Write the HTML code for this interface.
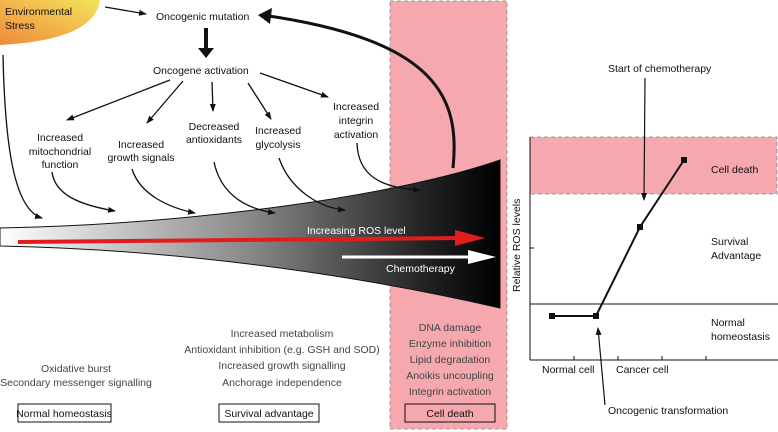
<!DOCTYPE html>
<html><head><meta charset="utf-8"><style>
body{margin:0;background:#fff}
svg{display:block}
text{font-family:"Liberation Sans",sans-serif;font-size:10.5px;fill:#111}
.g{fill:#444}
</style></head><body>
<svg width="778" height="432" viewBox="0 0 778 432" xmlns="http://www.w3.org/2000/svg">
<defs>
<linearGradient id="fun" x1="0" x2="1" y1="0" y2="0">
<stop offset="0" stop-color="#fff"/><stop offset="0.5" stop-color="#888"/><stop offset="0.85" stop-color="#222"/><stop offset="1" stop-color="#000"/></linearGradient>
<linearGradient id="env" x1="0" y1="1" x2="1" y2="0">
<stop offset="0" stop-color="#f08a3c"/><stop offset="1" stop-color="#f3e45a"/></linearGradient>
<marker id="a" markerWidth="8" markerHeight="8" refX="7" refY="4" orient="auto" markerUnits="userSpaceOnUse"><path d="M0,1 L8,4 L0,7z" fill="#111"/></marker>
</defs>
<path d="M0,0 H100 Q95,40 0,45 Z" fill="url(#env)"/>
<text x="5" y="15">Environmental</text><text x="5" y="29">Stress</text>
<rect x="390" y="1" width="117" height="428" fill="#f5a8ae" stroke="#999" stroke-dasharray="4,3"/>
<path d="M0,228 L0,246 C200,250 380,280 500,308 L500,160 C400,195 200,224 0,228Z" fill="url(#fun)" stroke="#111" stroke-width="1"/>
<line x1="18" y1="242" x2="458" y2="238" stroke="#e21c1c" stroke-width="4"/>
<path d="M455,230 L485,238 L455,246z" fill="#e21c1c"/>
<text x="307" y="234" style="fill:#fff">Increasing ROS level</text>
<line x1="342" y1="257" x2="470" y2="257" stroke="#fff" stroke-width="3"/>
<path d="M468,250 L496,257 L468,264z" fill="#fff"/>
<text x="386" y="272" style="fill:#fff">Chemotherapy</text>
<text x="156" y="20">Oncogenic mutation</text>
<line x1="105" y1="7" x2="146" y2="14" stroke="#111" stroke-width="1.3" marker-end="url(#a)"/>
<path d="M453,168 C460,100 440,40 262,15" fill="none" stroke="#111" stroke-width="3"/>
<path d="M258,15 L272,8 L270,24z" fill="#111"/>
<line x1="206" y1="28" x2="206" y2="52" stroke="#111" stroke-width="4"/><path d="M198,48 L214,48 L206,58z" fill="#111"/>
<text x="153" y="74">Oncogene activation</text>
<g stroke="#111" stroke-width="1.3" fill="none" marker-end="url(#a)">
<line x1="170" y1="80" x2="67" y2="120"/>
<line x1="183" y1="81" x2="147" y2="123"/>
<line x1="212" y1="82" x2="213" y2="111"/>
<line x1="248" y1="83" x2="271" y2="119"/>
<line x1="260" y1="73" x2="328" y2="97"/>
<path d="M3,55 C5,150 15,210 42,218"/>
<path d="M52,172 C55,195 80,205 115,211"/>
<path d="M132,169 C140,195 170,208 195,213"/>
<path d="M214,162 C220,190 240,208 275,213"/>
<path d="M279,158 C290,190 320,208 345,210"/>
<path d="M357,143 C358,175 380,188 420,190"/>
</g>
<g text-anchor="middle">
<text x="60" y="141">Increased</text><text x="60" y="155">mitochondrial</text><text x="60" y="168">function</text>
<text x="141" y="148">Increased</text><text x="141" y="161">growth signals</text>
<text x="214" y="130">Decreased</text><text x="214" y="143">antioxidants</text>
<text x="278" y="134">Increased</text><text x="278" y="148">glycolysis</text>
<text x="356" y="110">Increased</text><text x="356" y="124">integrin</text><text x="356" y="138">activation</text>
<text x="76" y="372" class="g">Oxidative burst</text>
<text x="76" y="386" class="g">Secondary messenger signalling</text>
<text x="282" y="337" class="g">Increased metabolism</text>
<text x="282" y="353" class="g">Antioxidant inhibition (e.g. GSH and SOD)</text>
<text x="282" y="369" class="g">Increased growth signalling</text>
<text x="282" y="386" class="g">Anchorage independence</text>
<text x="450" y="331" class="g">DNA damage</text>
<text x="450" y="347" class="g">Enzyme inhibition</text>
<text x="450" y="363" class="g">Lipid degradation</text>
<text x="450" y="379" class="g">Anoikis uncoupling</text>
<text x="450" y="395" class="g">Integrin activation</text>
</g>
<rect x="18" y="404" width="93" height="18" fill="#fff" stroke="#111"/><text x="64" y="417" text-anchor="middle">Normal homeostasis</text>
<rect x="219" y="404" width="100" height="18" fill="#fff" stroke="#111"/><text x="269" y="417" text-anchor="middle">Survival advantage</text>
<rect x="405" y="404" width="90" height="18" fill="none" stroke="#111"/><text x="450" y="417" text-anchor="middle">Cell death</text>
<rect x="530" y="137" width="247" height="57" fill="#f5a8ae" stroke="#999" stroke-dasharray="4,3"/>
<line x1="530" y1="137" x2="530" y2="360" stroke="#111"/>
<line x1="530" y1="360" x2="778" y2="360" stroke="#111"/>
<line x1="530" y1="304" x2="778" y2="304" stroke="#111"/>
<g stroke="#111"><line x1="574" y1="356" x2="574" y2="360"/><line x1="618" y1="356" x2="618" y2="360"/><line x1="662" y1="356" x2="662" y2="360"/><line x1="706" y1="356" x2="706" y2="360"/><line x1="530" y1="248" x2="534" y2="248"/></g>
<polyline points="552,316 596,316 640,227 684,160" fill="none" stroke="#111" stroke-width="2"/>
<g fill="#111"><rect x="549" y="313" width="6" height="6"/><rect x="593" y="313" width="6" height="6"/><rect x="637" y="224" width="6" height="6"/><rect x="681" y="157" width="6" height="6"/></g>
<text x="711" y="173">Cell death</text>
<text x="711" y="245">Survival</text><text x="711" y="259">Advantage</text>
<text x="711" y="326">Normal</text><text x="711" y="340">homeostasis</text>
<text x="542" y="373">Normal cell</text><text x="616" y="373">Cancer cell</text>
<text x="608" y="414">Oncogenic transformation</text>
<line x1="605" y1="405" x2="598" y2="328" stroke="#111" stroke-width="1.2" marker-end="url(#a)"/>
<text x="608" y="72">Start of chemotherapy</text>
<line x1="645" y1="78" x2="644" y2="200" stroke="#111" stroke-width="1.2" marker-end="url(#a)"/>
<text transform="translate(520,292) rotate(-90)">Relative ROS levels</text>
</svg>
</body></html>
